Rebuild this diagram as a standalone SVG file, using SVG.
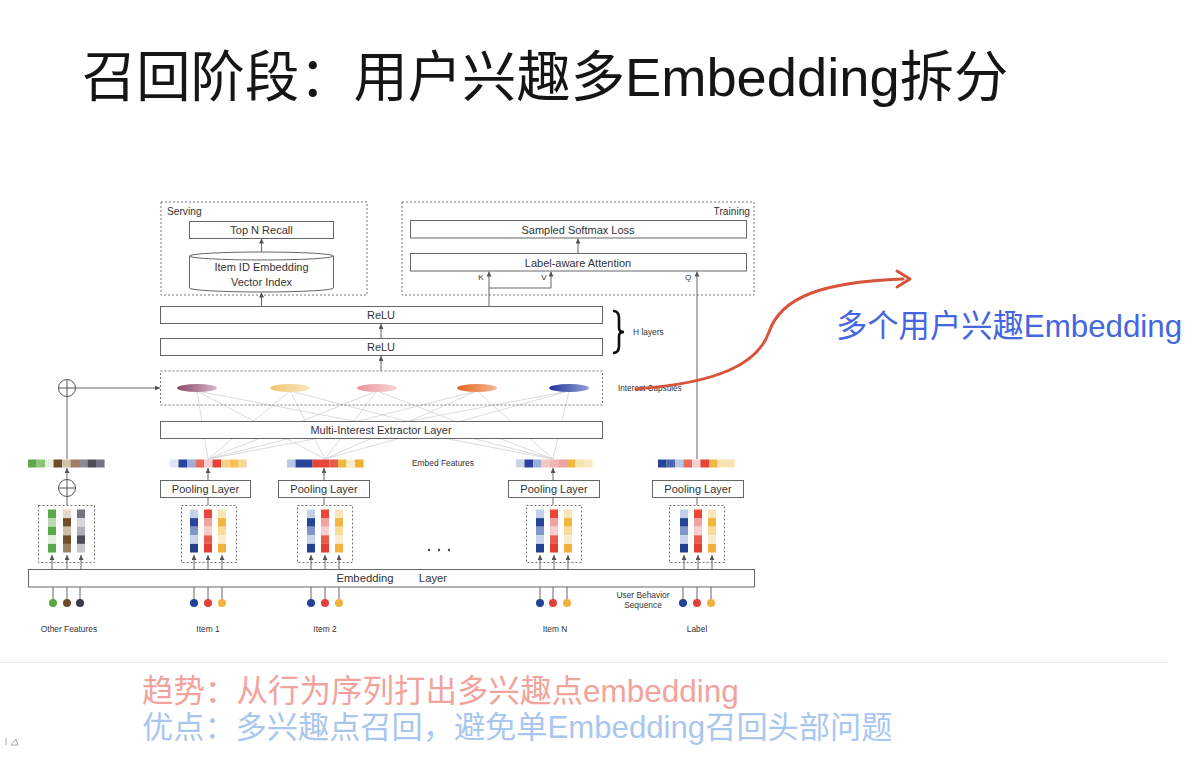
<svg xmlns="http://www.w3.org/2000/svg" width="1200" height="778" viewBox="0 0 1200 778">
<defs>
<style>
.box{fill:#fff;stroke:#666;stroke-width:1}
.dash{fill:none;stroke:#777;stroke-width:1;stroke-dasharray:2 2}
.t{font-family:"Liberation Sans",Arial,sans-serif;fill:#333;text-anchor:middle}
.m{font-size:11px}
.s{font-size:8.4px}
.ln{fill:none;stroke:#666;stroke-width:1}
.arr{fill:none;stroke:#666;stroke-width:1;marker-end:url(#ah)}
.web{stroke:#d2d2d2;stroke-width:0.8}
.cjk{font-family:"Liberation Sans","Noto Sans CJK SC",sans-serif}
.dot{stroke:none}
</style>
<marker id="ah" viewBox="0 0 6 6" refX="6" refY="3" markerWidth="5" markerHeight="5" markerUnits="userSpaceOnUse" orient="auto"><path d="M0,0 L6,3 L0,6 z" fill="#555"/></marker>
<linearGradient id="gPur"><stop offset="0" stop-color="#8a4a6c"/><stop offset="1" stop-color="#d6b4c6"/></linearGradient>
<linearGradient id="gYel"><stop offset="0" stop-color="#efc46c"/><stop offset="1" stop-color="#f8e8c0"/></linearGradient>
<linearGradient id="gPink"><stop offset="0" stop-color="#ea9496"/><stop offset="1" stop-color="#f7d4d4"/></linearGradient>
<linearGradient id="gOra"><stop offset="0" stop-color="#e4651f"/><stop offset="1" stop-color="#f5b892"/></linearGradient>
<linearGradient id="gBlu"><stop offset="0" stop-color="#21369a"/><stop offset="1" stop-color="#8e9ed4"/></linearGradient>
<g id="cBlue"><rect width="8" height="8.6" fill="#c3d0e8"/><rect y="8.6" width="8" height="8.6" fill="#27449a"/><rect y="17.2" width="8" height="8.6" fill="#7e96c8"/><rect y="25.8" width="8" height="8.6" fill="#c9d5ea"/><rect y="34.4" width="8" height="8.6" fill="#24408f"/></g>
<g id="cRed"><rect width="8" height="8.6" fill="#e8473a"/><rect y="8.6" width="8" height="8.6" fill="#f1a3a0"/><rect y="17.2" width="8" height="8.6" fill="#f6cfcd"/><rect y="25.8" width="8" height="8.6" fill="#e85c4e"/><rect y="34.4" width="8" height="8.6" fill="#e23f33"/></g>
<g id="cYel"><rect width="8" height="8.6" fill="#f8e6b8"/><rect y="8.6" width="8" height="8.6" fill="#f1b63f"/><rect y="17.2" width="8" height="8.6" fill="#f8dc98"/><rect y="25.8" width="8" height="8.6" fill="#faeccc"/><rect y="34.4" width="8" height="8.6" fill="#f0b23a"/></g>
<g id="cGreen"><rect width="8" height="8.6" fill="#5ba84a"/><rect y="8.6" width="8" height="8.6" fill="#b8dcae"/><rect y="17.2" width="8" height="8.6" fill="#5ba84a"/><rect y="25.8" width="8" height="8.6" fill="#e2f0dc"/><rect y="34.4" width="8" height="8.6" fill="#5ba84a"/></g>
<g id="cBrown"><rect width="8" height="8.6" fill="#e4d9cc"/><rect y="8.6" width="8" height="8.6" fill="#6e4c2c"/><rect y="17.2" width="8" height="8.6" fill="#cfbda4"/><rect y="25.8" width="8" height="8.6" fill="#6e4c2c"/><rect y="34.4" width="8" height="8.6" fill="#9c8064"/></g>
<g id="cGray"><rect width="8" height="8.6" fill="#747480"/><rect y="8.6" width="8" height="8.6" fill="#d6d6dc"/><rect y="17.2" width="8" height="8.6" fill="#aeaeb8"/><rect y="25.8" width="8" height="8.6" fill="#4c4c5c"/><rect y="34.4" width="8" height="8.6" fill="#c6c6d0"/></g>
<g id="stack3"><use href="#cBlue" x="-18"/><use href="#cRed" x="-4"/><use href="#cYel" x="10"/></g>
<g id="oplus"><circle r="8.5" fill="#fff" stroke="#555" stroke-width="1"/><path d="M-8.5,0 H8.5 M0,-8.5 V8.5" stroke="#555" stroke-width="1"/></g>
</defs>

<rect width="1200" height="778" fill="#fff"/>

<g id="title">
<text x="82" y="96" class="cjk" font-size="54.3" fill="#151515">召回阶段：用户兴趣多Embedding拆分</text>
</g>

<g id="web-lines">
<line class="web" x1="197" y1="391" x2="208" y2="459"/><line class="web" x1="197" y1="391" x2="325" y2="459"/><line class="web" x1="197" y1="391" x2="553" y2="459"/>
<line class="web" x1="290" y1="391" x2="208" y2="459"/><line class="web" x1="290" y1="391" x2="325" y2="459"/><line class="web" x1="290" y1="391" x2="553" y2="459"/>
<line class="web" x1="377" y1="391" x2="208" y2="459"/><line class="web" x1="377" y1="391" x2="325" y2="459"/><line class="web" x1="377" y1="391" x2="553" y2="459"/>
<line class="web" x1="477" y1="391" x2="208" y2="459"/><line class="web" x1="477" y1="391" x2="325" y2="459"/><line class="web" x1="477" y1="391" x2="553" y2="459"/>
<line class="web" x1="569" y1="391" x2="208" y2="459"/><line class="web" x1="569" y1="391" x2="325" y2="459"/><line class="web" x1="569" y1="391" x2="553" y2="459"/>
</g>

<g id="serving">
<rect class="dash" x="161" y="202" width="206" height="93"/>
<text class="t" x="167" y="215" font-size="10.2" style="text-anchor:start">Serving</text>
</g>
<g id="top-n-recall">
<rect class="box" x="189.5" y="221.5" width="144" height="17"/>
<text class="t m" x="261.5" y="234">Top N Recall</text>
</g>
<g id="vector-index">
<path d="M189.5,256 V288 A72,4 0 0 0 333.5,288 V256" fill="#fff" stroke="#666" stroke-width="1"/>
<ellipse cx="261.5" cy="256" rx="72" ry="4" fill="#fff" stroke="#666" stroke-width="1"/>
<text class="t m" x="261.5" y="271">Item ID Embedding</text>
<text class="t m" x="261.5" y="285.5">Vector Index</text>
</g>

<g id="training">
<rect class="dash" x="402" y="202" width="352" height="93"/>
<text class="t" x="750" y="215" font-size="10.2" style="text-anchor:end">Training</text>
</g>
<g id="sampled-softmax">
<rect class="box" x="410.5" y="220.5" width="336" height="17.5"/>
<text class="t m" x="578" y="233.5">Sampled Softmax Loss</text>
</g>
<g id="label-attention">
<rect class="box" x="410.5" y="253.5" width="336" height="17.5"/>
<text class="t m" x="578" y="266.5">Label-aware Attention</text>
<text class="t" x="481" y="280" font-size="8">K</text>
<text class="t" x="544" y="280" font-size="8">V</text>
<text class="t" x="688" y="280" font-size="8">Q</text>
</g>

<g id="relu-top">
<rect class="box" x="160.5" y="306.5" width="442" height="17"/>
<text class="t m" x="381" y="319">ReLU</text>
</g>
<g id="relu-bottom">
<rect class="box" x="160.5" y="338.5" width="442" height="17"/>
<text class="t m" x="381" y="351">ReLU</text>
</g>
<g id="h-layers">
<path d="M613,311 Q619,311 619,318 V328 Q619,332 624,332 Q619,332 619,336 V346 Q619,353 613,353" fill="none" stroke="#111" stroke-width="2.6"/>
<text class="t" x="633" y="335" font-size="8.4" style="text-anchor:start">H layers</text>
</g>

<g id="interest-capsules">
<rect class="dash" x="160.5" y="371" width="442" height="34"/>
<ellipse cx="197" cy="388" rx="20" ry="4" fill="url(#gPur)"/>
<ellipse cx="290" cy="388" rx="20" ry="4" fill="url(#gYel)"/>
<ellipse cx="377" cy="388" rx="20" ry="4" fill="url(#gPink)"/>
<ellipse cx="477" cy="388" rx="20" ry="4" fill="url(#gOra)"/>
<ellipse cx="569" cy="388" rx="20" ry="4" fill="url(#gBlu)"/>
<text class="t" x="618" y="391" font-size="8.2" style="text-anchor:start">Interest Capsules</text>
</g>

<g id="extractor">
<rect class="box" x="160.5" y="421.5" width="442" height="17"/>
<text class="t m" x="381" y="434">Multi-Interest Extractor Layer</text>
</g>

<g id="embed-features">
<g transform="translate(28,459.5)">
<rect x="0" width="8.6" height="8" fill="#5aa84a"/><rect x="8.5" width="8.6" height="8" fill="#8cc47a"/><rect x="17" width="8.6" height="8" fill="#e6efe0"/><rect x="25.5" width="8.6" height="8" fill="#6e4c2c"/><rect x="34" width="8.6" height="8" fill="#d3c2aa"/><rect x="42.5" width="8.6" height="8" fill="#9c8064"/><rect x="51" width="8.6" height="8" fill="#8a8a94"/><rect x="59.5" width="8.6" height="8" fill="#4c4c5c"/><rect x="68" width="8.6" height="8" fill="#74747e"/>
</g>
<g transform="translate(170,459.5)">
<rect x="0" width="8.6" height="8" fill="#dfe6f2"/><rect x="8.5" width="8.6" height="8" fill="#27449a"/><rect x="17" width="8.6" height="8" fill="#9cb0d8"/><rect x="25.5" width="8.6" height="8" fill="#e86a5a"/><rect x="34" width="8.6" height="8" fill="#f8d0d0"/><rect x="42.5" width="8.6" height="8" fill="#e4423a"/><rect x="51" width="8.6" height="8" fill="#f8d488"/><rect x="59.5" width="8.6" height="8" fill="#f3c35a"/><rect x="68" width="8.6" height="8" fill="#f8d890"/>
</g>
<g transform="translate(287,459.5)">
<rect x="0" width="8.6" height="8" fill="#b8c8e4"/><rect x="8.5" width="8.6" height="8" fill="#27449a"/><rect x="17" width="8.6" height="8" fill="#27449a"/><rect x="25.5" width="8.6" height="8" fill="#e4473a"/><rect x="34" width="8.6" height="8" fill="#e4473a"/><rect x="42.5" width="8.6" height="8" fill="#e85a4a"/><rect x="51" width="8.6" height="8" fill="#f0b840"/><rect x="59.5" width="8.6" height="8" fill="#f8ecc8"/><rect x="68" width="8.6" height="8" fill="#f0b030"/>
</g>
<g transform="translate(516,459.5)">
<rect x="0" width="8.6" height="8" fill="#c8d4ea"/><rect x="8.5" width="8.6" height="8" fill="#27449a"/><rect x="17" width="8.6" height="8" fill="#9ab0d8"/><rect x="25.5" width="8.6" height="8" fill="#f6c6c0"/><rect x="34" width="8.6" height="8" fill="#f0b4b4"/><rect x="42.5" width="8.6" height="8" fill="#eda0a0"/><rect x="51" width="8.6" height="8" fill="#f0b840"/><rect x="59.5" width="8.6" height="8" fill="#f8e4b0"/><rect x="68" width="8.6" height="8" fill="#f8e8c0"/>
</g>
<g transform="translate(658,459.5)">
<rect x="0" width="8.6" height="8" fill="#27449a"/><rect x="8.5" width="8.6" height="8" fill="#4a68b0"/><rect x="17" width="8.6" height="8" fill="#b8c8e4"/><rect x="25.5" width="8.6" height="8" fill="#e86a5a"/><rect x="34" width="8.6" height="8" fill="#f8d0d0"/><rect x="42.5" width="8.6" height="8" fill="#e4423a"/><rect x="51" width="8.6" height="8" fill="#f0b840"/><rect x="59.5" width="8.6" height="8" fill="#f8e4b0"/><rect x="68" width="8.6" height="8" fill="#f8e4b0"/>
</g>
<text class="t" x="443" y="466" font-size="8.4">Embed Features</text>
</g>

<g id="pooling-item1"><rect class="box" x="160.5" y="480.5" width="90" height="17"/><text class="t m" x="205.5" y="493">Pooling Layer</text></g>
<g id="pooling-item2"><rect class="box" x="278.5" y="480.5" width="91" height="17"/><text class="t m" x="324" y="493">Pooling Layer</text></g>
<g id="pooling-itemN"><rect class="box" x="508.5" y="480.5" width="91" height="17"/><text class="t m" x="554" y="493">Pooling Layer</text></g>
<g id="pooling-label"><rect class="box" x="652.5" y="480.5" width="91" height="17"/><text class="t m" x="698" y="493">Pooling Layer</text></g>

<g id="stack-other">
<rect class="dash" x="38.5" y="505.5" width="56" height="57"/>
<use href="#cGreen" x="48" y="509.5"/><use href="#cBrown" x="63" y="509.5"/><use href="#cGray" x="77" y="509.5"/>
</g>
<g id="stack-item1"><rect class="dash" x="181.5" y="505.5" width="55" height="57"/><use href="#stack3" x="208" y="509.5"/></g>
<g id="stack-item2"><rect class="dash" x="297.5" y="505.5" width="55" height="57"/><use href="#stack3" x="325" y="509.5"/></g>
<g id="stack-itemN"><rect class="dash" x="526.5" y="505.5" width="55" height="57"/><use href="#stack3" x="554" y="509.5"/></g>
<g id="stack-label"><rect class="dash" x="669.5" y="505.5" width="55" height="57"/><use href="#stack3" x="698" y="509.5"/></g>

<g id="ellipsis"><circle cx="429" cy="550" r="1.2" fill="#444"/><circle cx="439" cy="550" r="1.2" fill="#444"/><circle cx="449" cy="550" r="1.2" fill="#444"/></g>

<g id="embedding-layer">
<rect class="box" x="28.5" y="569.5" width="726" height="17.5"/>
<text class="t" x="365" y="582" font-size="11.3">Embedding</text>
<text class="t" x="433" y="582" font-size="11.3">Layer</text>
</g>

<g id="connectors">
<line class="arr" x1="261.5" y1="306" x2="261.5" y2="292.5"/>
<line class="arr" x1="261.5" y1="252" x2="261.5" y2="238.5"/>
<line class="arr" x1="578" y1="253" x2="578" y2="238.5"/>
<line class="arr" x1="489" y1="306" x2="489" y2="271.5"/>
<path class="arr" d="M489,288 H551 V271.5"/>
<line class="arr" x1="697" y1="459" x2="697" y2="271.5"/>
<line class="arr" x1="381" y1="338" x2="381" y2="324"/>
<line class="arr" x1="381" y1="371" x2="381" y2="356"/>
<line class="ln" x1="67" y1="459" x2="67" y2="397"/>
<line class="arr" x1="75.5" y1="388" x2="160" y2="388"/>
<line class="arr" x1="67" y1="479.5" x2="67" y2="468"/>
<line class="ln" x1="67" y1="505" x2="67" y2="497"/>
<line class="arr" x1="208" y1="480" x2="208" y2="468"/>
<line class="arr" x1="324" y1="480" x2="324" y2="468"/>
<line class="arr" x1="553" y1="480" x2="553" y2="468"/>
<line class="ln" x1="208" y1="505" x2="208" y2="498"/>
<line class="ln" x1="324" y1="505" x2="324" y2="498"/>
<line class="ln" x1="553" y1="505" x2="553" y2="498"/>
<line class="ln" x1="697" y1="505" x2="697" y2="498"/>
<line class="arr" x1="52" y1="569" x2="52" y2="555"/><line class="arr" x1="67" y1="569" x2="67" y2="555"/><line class="arr" x1="81" y1="569" x2="81" y2="555"/>
<line class="arr" x1="194" y1="569" x2="194" y2="555"/><line class="arr" x1="208" y1="569" x2="208" y2="555"/><line class="arr" x1="222" y1="569" x2="222" y2="555"/>
<line class="arr" x1="311" y1="569" x2="311" y2="555"/><line class="arr" x1="325" y1="569" x2="325" y2="555"/><line class="arr" x1="339" y1="569" x2="339" y2="555"/>
<line class="arr" x1="540" y1="569" x2="540" y2="555"/><line class="arr" x1="554" y1="569" x2="554" y2="555"/><line class="arr" x1="568" y1="569" x2="568" y2="555"/>
<line class="arr" x1="684" y1="569" x2="684" y2="555"/><line class="arr" x1="698" y1="569" x2="698" y2="555"/><line class="arr" x1="712" y1="569" x2="712" y2="555"/>
<path class="ln" d="M53,587V600 M67,587V600 M80,587V600 M194,587V600 M208,587V600 M222,587V600 M311,587V600 M325,587V600 M339,587V600 M540,587V600 M553,587V600 M567,587V600 M683,587V600 M697,587V600 M711,587V600"/>
</g>

<g id="oplus-upper"><use href="#oplus" x="67" y="388"/></g>
<g id="oplus-lower"><use href="#oplus" x="67" y="488"/></g>

<g id="inputs">
<circle cx="53" cy="603" r="4" fill="#5aa83e"/><circle cx="67" cy="603" r="4" fill="#6b4a2a"/><circle cx="80" cy="603" r="4" fill="#3a3a48"/>
<circle cx="194" cy="603" r="4" fill="#23409a"/><circle cx="208" cy="603" r="4" fill="#e2403a"/><circle cx="222" cy="603" r="4" fill="#f0b43e"/>
<circle cx="311" cy="603" r="4" fill="#23409a"/><circle cx="325" cy="603" r="4" fill="#e2403a"/><circle cx="339" cy="603" r="4" fill="#f0b43e"/>
<circle cx="540" cy="603" r="4" fill="#23409a"/><circle cx="553" cy="603" r="4" fill="#e2403a"/><circle cx="567" cy="603" r="4" fill="#f0b43e"/>
<circle cx="683" cy="603" r="4" fill="#23409a"/><circle cx="697" cy="603" r="4" fill="#e2403a"/><circle cx="711" cy="603" r="4" fill="#f0b43e"/>
<text class="t s" x="69" y="632">Other Features</text>
<text class="t s" x="208" y="632">Item 1</text>
<text class="t s" x="325" y="632">Item 2</text>
<text class="t s" x="555" y="632">Item N</text>
<text class="t s" x="697" y="632">Label</text>
<text class="t s" x="643" y="598">User Behavior</text>
<text class="t s" x="643" y="608">Sequence</text>
</g>

<g id="annotation">
<path d="M636,389 C718,383 758,364 769,332 C781,297 822,282 903,279" fill="none" stroke="#d9533a" stroke-width="3" stroke-linecap="round"/>
<path d="M897,271 L910,279 L897,287" fill="none" stroke="#d9533a" stroke-width="3" stroke-linecap="round" stroke-linejoin="round"/>
<text x="836" y="337" class="cjk" font-size="31.3" fill="#4466e0">多个用户兴趣Embedding</text>
</g>

<g id="footer">
<line x1="0" y1="662.5" x2="1168" y2="662.5" stroke="#e6e6e6" stroke-width="1"/>
<text x="142" y="702" class="cjk" font-size="31.5" fill="#f2a39c">趋势：从行为序列打出多兴趣点embedding</text>
<text x="142" y="738" class="cjk" font-size="31.2" fill="#a9c7ee">优点：多兴趣点召回，避免单Embedding召回头部问题</text>
<path d="M6,738 V745 M11,745 L16,739 L18,745 Z" fill="none" stroke="#aaa" stroke-width="1"/>
</g>
</svg>
